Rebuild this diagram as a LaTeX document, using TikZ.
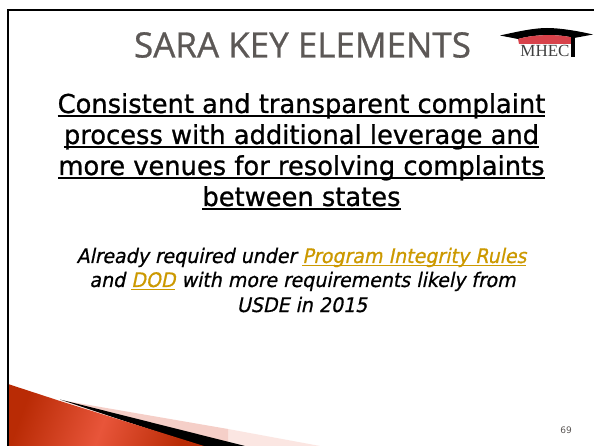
\documentclass[tikz,border=0pt]{standalone}
\usepackage{fontspec}
\setmainfont{DejaVu Sans}
\newfontfamily\titlefont[FakeBold=0.8]{Open Sans}
\newfontfamily\logofont{Liberation Serif}
\newfontfamily\headfont[FakeBold=0.9]{DejaVu Sans}
\newfontfamily\subfont[FakeBold=0.7,FakeSlant=0.22]{DejaVu Sans}
\definecolor{linkgold}{HTML}{CC9900}
\definecolor{redA}{HTML}{B92B05}
\definecolor{redB}{HTML}{E8553A}
\definecolor{titlegray}{HTML}{5C5856}
\definecolor{pinkA}{HTML}{F5CFC8}
\definecolor{pinkB}{HTML}{FBE6E2}
\definecolor{caplight}{HTML}{D8424A}
\tikzset{
 titletext/.style={inner sep=0pt,anchor=base,text=titlegray,font=\titlefont\fontsize{35}{35}\selectfont},
 headtext/.style={inner sep=0pt,anchor=base,font=\headfont\fontsize{26}{26}\selectfont,xscale=.99},
 subtext/.style={inner sep=0pt,anchor=base,font=\subfont\fontsize{20}{20}\selectfont,xscale=.95},
 pagenum/.style={inner sep=0pt,font=\fontsize{9}{9}\selectfont,text=titlegray},
 logotext/.style={inner sep=0pt,font=\logofont\fontsize{17}{17}\selectfont,text=black!75},
 frameline/.style={draw=black,line width=2pt}
}
\newcommand{\ulbox}[3]{\setbox0\hbox{#3}\rlap{\rule[#1]{\wd0}{#2}}\box0}
\newcommand{\hul}[1]{\ulbox{-4.2pt}{1.9pt}{#1}}
\newcommand{\lnk}[1]{\textcolor{linkgold}{\ulbox{-3.4pt}{1.3pt}{#1}}}
\begin{document}
\begin{tikzpicture}[x=1pt,y=-1pt]
\useasboundingbox (0,0) rectangle (594,446);
\fill[white] (0,0) rectangle (594,446);
% bottom wedge
\fill[pinkB] (228,429) -- (320,446) -- (228,446) -- cycle;
\fill[pinkA] (60,400) -- (228,429) -- (228,446) -- (200,446) -- cycle;
\fill[black] (60,399.5) -- (245,446) -- (200,446) -- cycle;
\path[left color=redA,right color=redA,middle color=redB,shading angle=70]
  (8,384) -- (60,401) -- (204,446) -- (8,446) -- cycle;
% frame
\coordinate (tl) at (8,10);
\coordinate (tr) at (594,10);
\coordinate (bl) at (8,446);
\draw[frameline] (tr) -- (tl) -- (bl);
% title
\node[titletext] (title) at (302.5,57.5) {SARA KEY ELEMENTS};
% logo
\fill[black] (500,35.5) .. controls (520,31) and (535,28) .. (547,28) .. controls (560,28) and (578,31) .. (593,34.5)
  -- (574,38) .. controls (560,34) and (535,34) .. (518,39) -- cycle;
\fill[caplight] (518,39) .. controls (535,34) and (560,34) .. (574,38) -- (572,44) -- (519,44) -- cycle;
\fill[black] (571,37) rectangle (575,57);
\node[logotext] (logo) at (545,51) {MHEC};
% heading
\node[headtext] (h1) at (301.5,113) {\hul{Consistent and transparent complaint}};
\node[headtext] (h2) at (301.5,144) {\hul{process with additional leverage and}};
\node[headtext] (h3) at (301.5,175) {\hul{more venues for resolving complaints}};
\node[headtext] (h4) at (301.5,206) {\hul{between states}};
% sub text
\node[subtext] (s1) at (301.5,263) {Already required under \lnk{Program Integrity Rules}};
\node[subtext] (s2) at (302.5,287) {and \lnk{DOD} with more requirements likely from};
\node[subtext] (s3) at (302,312) {USDE in 2015};
\node[pagenum] (pg) at (566,430) {69};
\end{tikzpicture}
\end{document}
